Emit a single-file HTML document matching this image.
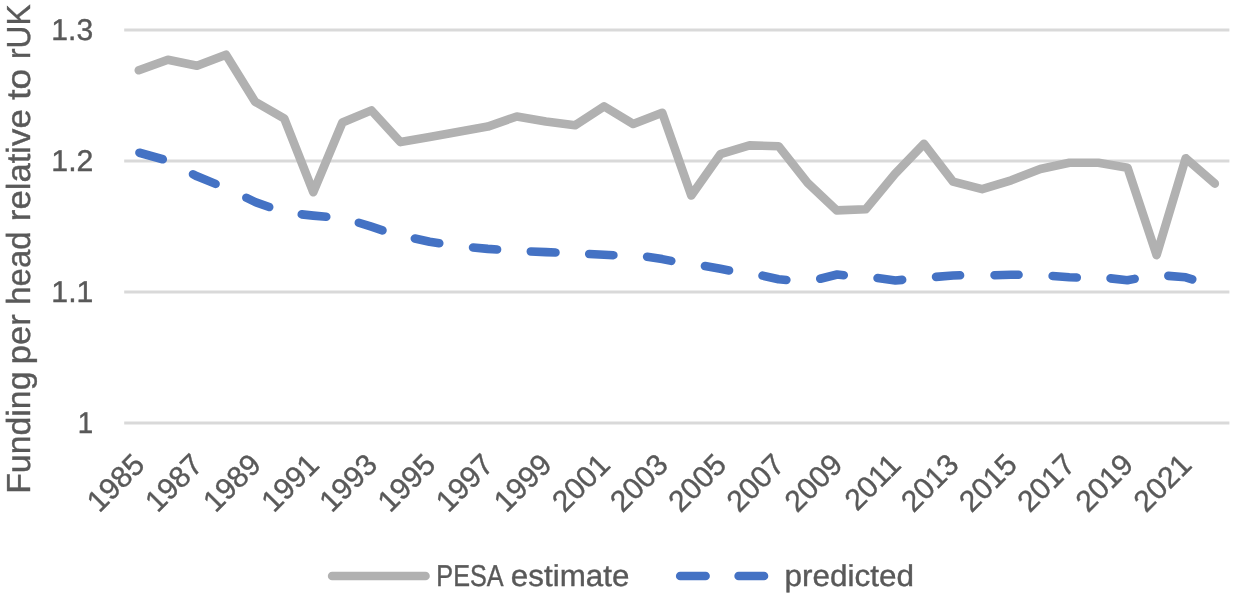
<!DOCTYPE html>
<html><head><meta charset="utf-8"><title>chart</title>
<style>
html,body{margin:0;padding:0;background:#fff;}
body{width:1233px;height:596px;overflow:hidden;}
svg{display:block;}
text{font-family:"Liberation Sans",sans-serif;fill:#595959;text-rendering:geometricPrecision;stroke:#595959;stroke-width:0.4px;}
</style></head><body>
<svg width="1233" height="596" viewBox="0 0 1233 596">
<rect width="1233" height="596" fill="#ffffff"/>
<line x1="124.2" x2="1229.4" y1="30.1" y2="30.1" stroke="#d9d9d9" stroke-width="3.0"/>
<line x1="124.2" x2="1229.4" y1="160.9" y2="160.9" stroke="#d9d9d9" stroke-width="3.0"/>
<line x1="124.2" x2="1229.4" y1="292.0" y2="292.0" stroke="#d9d9d9" stroke-width="3.0"/>
<line x1="124.2" x2="1229.4" y1="423.0" y2="423.0" stroke="#d9d9d9" stroke-width="3.0"/>
<polyline points="138.8,70.3 167.9,59.8 197.0,65.8 226.0,54.7 255.1,101.8 284.2,118.4 313.3,192.2 342.4,122.5 371.4,110.4 400.5,142.1 429.6,136.9 458.7,131.7 487.8,126.6 516.8,116.5 545.9,121.5 575.0,125.3 604.1,106.4 633.2,124.0 662.2,112.7 691.3,195.5 720.4,154.2 749.5,145.4 778.6,146.2 807.6,182.8 836.7,210.4 865.8,209.2 894.9,174.1 924.0,143.8 953.0,181.6 982.1,189.1 1011.2,180.3 1040.3,169.0 1069.4,162.8 1098.4,162.8 1127.5,167.7 1156.6,255.1 1185.7,158.2 1214.8,183.6" fill="none" stroke="#b1b1b1" stroke-width="8.6" stroke-linecap="round" stroke-linejoin="round"/>
<g fill="none" stroke="#4472c4" stroke-width="8.6" stroke-linecap="round" stroke-linejoin="round">
<polyline points="139.43,152.75 162.77,159.25"/>
<polyline points="192.99,174.25 197.00,176.30 215.59,183.89"/>
<polyline points="246.39,197.74 255.10,202.00 269.18,207.02"/>
<polyline points="301.75,214.36 313.30,215.60 326.25,216.75"/>
<polyline points="358.82,222.76 371.40,226.70 382.48,230.42"/>
<polyline points="414.84,238.52 429.60,241.80 439.26,243.31"/>
<polyline points="473.05,247.45 487.80,248.90 497.05,249.47"/>
<polyline points="530.85,251.52 545.90,252.10 555.45,252.48"/>
<polyline points="589.25,254.02 604.10,254.70 613.35,255.17"/>
<polyline points="647.14,256.78 662.20,259.10 671.26,260.89"/>
<polyline points="704.94,266.00 720.40,268.80 729.06,270.40"/>
<polyline points="762.54,275.62 778.60,279.30 786.35,279.95"/>
<polyline points="820.23,278.77 837.20,274.50 843.75,275.24"/>
<polyline points="877.54,278.07 895.40,280.50 902.15,279.85"/>
<polyline points="936.05,276.86 953.00,275.50 960.05,275.31"/>
<polyline points="994.55,275.18 1011.20,274.70 1018.55,274.70"/>
<polyline points="1052.65,276.04 1069.40,277.20 1076.75,277.48"/>
<polyline points="1110.55,278.36 1127.30,280.30 1134.66,278.90"/>
<polyline points="1168.35,275.85 1185.70,277.30 1192.27,279.34"/>
</g>
<g opacity="0.999">
<text transform="translate(51.34,39.70) scale(1.0033,1)" font-size="30.0">1.3</text>
<text transform="translate(51.33,170.50) scale(1.0092,1)" font-size="30.0">1.2</text>
<text transform="translate(51.33,301.60) scale(1.0072,1)" font-size="30.0">1.1</text>
<text transform="translate(77.82,432.60) scale(0.9249,1)" font-size="30.0">1</text>
<text transform="translate(146.4,466.4) rotate(-45) scale(1.0,1)" font-size="30.0" text-anchor="end">1985</text>
<text transform="translate(204.6,466.4) rotate(-45) scale(1.0,1)" font-size="30.0" text-anchor="end">1987</text>
<text transform="translate(262.7,466.4) rotate(-45) scale(1.0,1)" font-size="30.0" text-anchor="end">1989</text>
<text transform="translate(320.9,466.4) rotate(-45) scale(1.0,1)" font-size="30.0" text-anchor="end">1991</text>
<text transform="translate(379.0,466.4) rotate(-45) scale(1.0,1)" font-size="30.0" text-anchor="end">1993</text>
<text transform="translate(437.2,466.4) rotate(-45) scale(1.0,1)" font-size="30.0" text-anchor="end">1995</text>
<text transform="translate(495.4,466.4) rotate(-45) scale(1.0,1)" font-size="30.0" text-anchor="end">1997</text>
<text transform="translate(553.5,466.4) rotate(-45) scale(1.0,1)" font-size="30.0" text-anchor="end">1999</text>
<text transform="translate(611.7,466.4) rotate(-45) scale(1.0,1)" font-size="30.0" text-anchor="end">2001</text>
<text transform="translate(669.8,466.4) rotate(-45) scale(1.0,1)" font-size="30.0" text-anchor="end">2003</text>
<text transform="translate(728.0,466.4) rotate(-45) scale(1.0,1)" font-size="30.0" text-anchor="end">2005</text>
<text transform="translate(786.2,466.4) rotate(-45) scale(1.0,1)" font-size="30.0" text-anchor="end">2007</text>
<text transform="translate(844.3,466.4) rotate(-45) scale(1.0,1)" font-size="30.0" text-anchor="end">2009</text>
<text transform="translate(902.5,466.4) rotate(-45) scale(1.0,1)" font-size="30.0" text-anchor="end">2011</text>
<text transform="translate(960.6,466.4) rotate(-45) scale(1.0,1)" font-size="30.0" text-anchor="end">2013</text>
<text transform="translate(1018.8,466.4) rotate(-45) scale(1.0,1)" font-size="30.0" text-anchor="end">2015</text>
<text transform="translate(1077.0,466.4) rotate(-45) scale(1.0,1)" font-size="30.0" text-anchor="end">2017</text>
<text transform="translate(1135.1,466.4) rotate(-45) scale(1.0,1)" font-size="30.0" text-anchor="end">2019</text>
<text transform="translate(1193.3,466.4) rotate(-45) scale(1.0,1)" font-size="30.0" text-anchor="end">2021</text>
<text transform="translate(29.80,493.79) rotate(-90) scale(1.0159,1)" font-size="33.3">Funding</text>
<text transform="translate(29.80,364.24) rotate(-90) scale(1.0362,1)" font-size="33.3">per</text>
<text transform="translate(29.80,304.70) rotate(-90) scale(0.9885,1)" font-size="33.3">head</text>
<text transform="translate(29.80,221.16) rotate(-90) scale(1.0421,1)" font-size="33.3">relative</text>
<text transform="translate(29.80,99.76) rotate(-90) scale(1.1162,1)" font-size="33.3">to</text>
<text transform="translate(29.80,58.95) rotate(-90) scale(0.9493,1)" font-size="33.3">rUK</text>
<line x1="332.1" x2="425.5" y1="576.0" y2="576.0" stroke="#b1b1b1" stroke-width="8.6" stroke-linecap="round"/>
<text transform="translate(436.32,585.80) scale(0.8347,1)" font-size="30.2">PESA</text>
<text transform="translate(510.87,585.80) scale(1.0384,1)" font-size="30.2">estimate</text>
<line x1="680.2" x2="705.6" y1="576.0" y2="576.0" stroke="#4472c4" stroke-width="8.6" stroke-linecap="round"/>
<line x1="738.6" x2="764.0" y1="576.0" y2="576.0" stroke="#4472c4" stroke-width="8.6" stroke-linecap="round"/>
<text transform="translate(784.45,585.80) scale(1.0428,1)" font-size="30.2">predicted</text>
</g>
</svg></body></html>
